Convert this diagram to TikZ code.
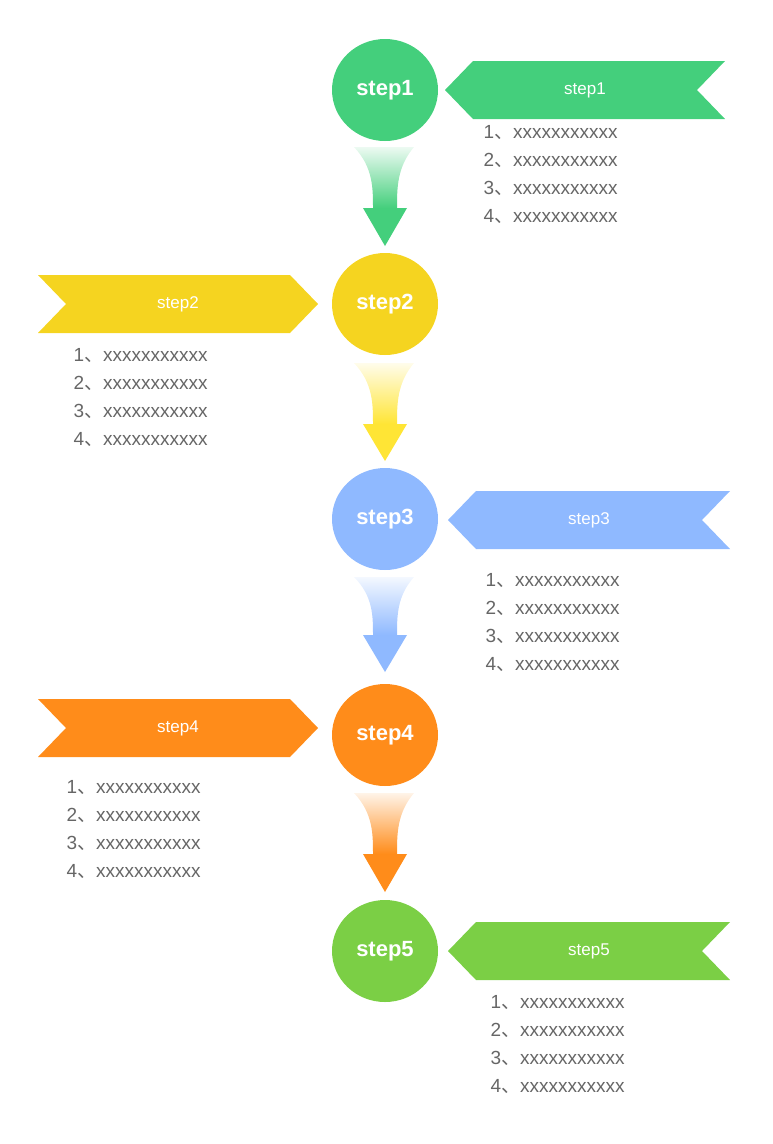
\documentclass[tikz,border=0pt]{standalone}
\usepackage{fontspec}
\setmainfont{Liberation Sans}
\newfontfamily\cjk{Noto Sans CJK SC}
\usepackage{xcolor}
\definecolor{cgreen}{HTML}{44CF7C}
\definecolor{cyellow}{HTML}{F5D420}
\definecolor{cyelarr}{HTML}{FFE535}
\definecolor{cblue}{HTML}{8FB9FF}
\definecolor{corange}{HTML}{FF8C1A}
\definecolor{clime}{HTML}{7BCF45}
\definecolor{ctext}{HTML}{666666}
\tikzset{
  stepnode/.style={ellipse,minimum width=106pt,minimum height=102pt,inner sep=0pt,text=white,font=\bfseries\fontsize{22}{26}\selectfont},
  tagtext/.style={text=white,font=\fontsize{17}{20}\selectfont},
  items/.style={anchor=north west,text=ctext,align=left,font=\fontsize{19}{28}\selectfont}
}
\newcommand{\itemlist}{1{\cjk 、}xxxxxxxxxxx\\2{\cjk 、}xxxxxxxxxxx\\3{\cjk 、}xxxxxxxxxxx\\4{\cjk 、}xxxxxxxxxxx}
\usetikzlibrary{shapes.geometric}
\begin{document}
\begin{tikzpicture}[x=1pt,y=-1pt]
        \useasboundingbox (0,0) rectangle (773,1144);
        % circles
        \node[stepnode,fill=cgreen] (s1) at (385,90) {step1};
        \node[stepnode,fill=cyellow] (s2) at (385,304) {step2};
        \node[stepnode,fill=cblue] (s3) at (385,519) {step3};
        \node[stepnode,fill=corange] (s4) at (385,735) {step4};
        \node[stepnode,fill=clime] (s5) at (385,951) {step5};
        % banners
        \fill[cgreen] (445,90) -- (473,61) -- (725,61) -- (697,90) -- (725,119) -- (473,119) -- cycle;
        \fill[cyellow] (38,275) -- (290,275) -- (318,304) -- (290,333) -- (38,333) -- (66,304) -- cycle;
        \fill[cblue] (448,520) -- (476,491) -- (730,491) -- (702,520) -- (730,549) -- (476,549) -- cycle;
        \fill[corange] (38,699) -- (290,699) -- (318,728) -- (290,757) -- (38,757) -- (66,728) -- cycle;
        \fill[clime] (448,951) -- (476,922) -- (730,922) -- (702,951) -- (730,980) -- (476,980) -- cycle;
        \node[tagtext] (t1) at (585,90) {step1};
        \node[tagtext] (t2) at (178,304) {step2};
        \node[tagtext] (t3) at (589,520) {step3};
        \node[tagtext] (t4) at (178,728) {step4};
        \node[tagtext] (t5) at (589,951) {step5};
        % lists
        \node[items] (l1) at (480,122) {\itemlist};
        \node[items] (l2) at (70,345) {\itemlist};
        \node[items] (l3) at (482,570) {\itemlist};
        \node[items] (l4) at (63,777) {\itemlist};
        \node[items] (l5) at (487,992) {\itemlist};
        % arrows
        \shade[top color=cgreen!10,bottom color=cgreen] (354,147) .. controls (373,167) and (373,188) .. (373,208) -- (397,208) .. controls (397,188) and (397,167) .. (414,147) -- cycle;
        \fill[cgreen] (363,208) -- (407,208) -- (385,246) -- cycle;
        \shade[top color=cyelarr!10,bottom color=cyelarr] (354,363) .. controls (373,383) and (373,404) .. (373,424) -- (397,424) .. controls (397,404) and (397,383) .. (414,363) -- cycle;
        \fill[cyelarr] (363,424) -- (407,424) -- (385,461) -- cycle;
        \shade[top color=cblue!10,bottom color=cblue] (354,577) .. controls (373,596) and (373,616) .. (373,635) -- (397,635) .. controls (397,616) and (397,596) .. (414,577) -- cycle;
        \fill[cblue] (363,635) -- (407,635) -- (385,672) -- cycle;
        \shade[top color=corange!10,bottom color=corange] (354,793) .. controls (373,813) and (373,834) .. (373,854) -- (397,854) .. controls (397,834) and (397,813) .. (414,793) -- cycle;
        \fill[corange] (363,854) -- (407,854) -- (385,892) -- cycle;
    \end{tikzpicture}
\end{document}
